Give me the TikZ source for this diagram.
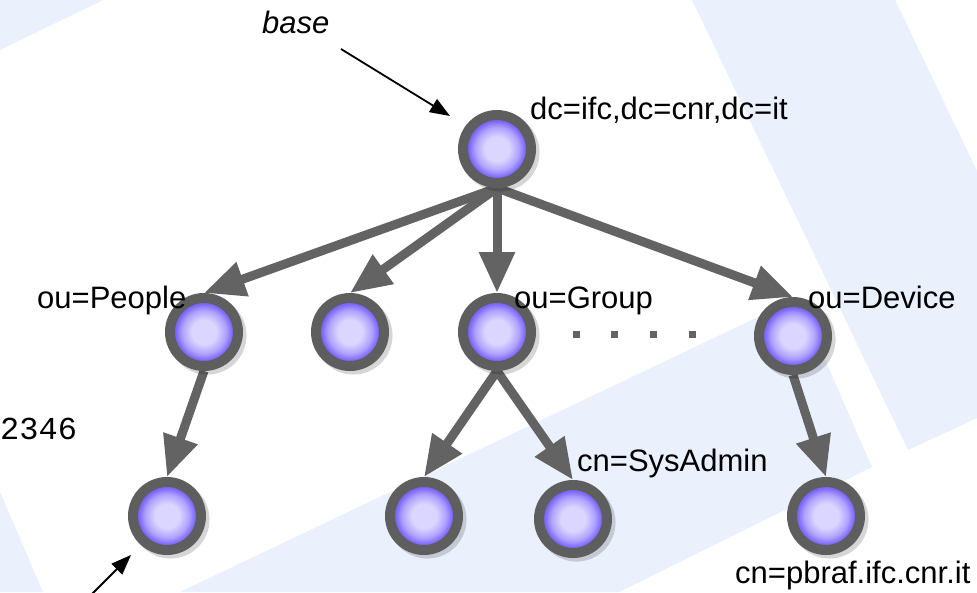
\documentclass[tikz,border=0pt]{standalone}
\usepackage{fontspec}
\setmainfont{Liberation Sans}
\newfontfamily\digitfont{Liberation Mono}
\usetikzlibrary{arrows.meta,shadows}
\definecolor{bgblue}{RGB}{234,240,252}
\definecolor{ringgray}{RGB}{94,94,94}
\definecolor{edgegray}{RGB}{99,99,99}
\definecolor{balllight}{RGB}{218,214,255}
\definecolor{ballmid}{RGB}{176,162,255}
\definecolor{balldark}{RGB}{120,100,250}
\pgfdeclareradialshading{ballshade}{\pgfpoint{0bp}{0bp}}{color(0bp)=(balllight); color(9bp)=(balllight); color(16bp)=(ballmid); color(21bp)=(balldark); color(25bp)=(balldark); color(50bp)=(balldark)}
\pgfdeclarelayer{back}
\pgfdeclarelayer{edges}
\pgfsetlayers{back,edges,main}
\tikzset{
  entry/.style={circle, draw=ringgray, line width=10pt, minimum size=68pt, inner sep=0pt,
    shade, shading=ballshade,
    drop shadow={shadow scale=1.15, shadow xshift=3pt, shadow yshift=-3pt, opacity=0.16, fill=black}},
  garrow/.style={draw=edgegray, line width=9pt, -{Triangle[length=41pt,width=34pt]}},
  barrow/.style={draw=black, line width=1.8pt, -{Triangle[length=20pt,width=15pt]}},
  lbl/.style={anchor=base west, inner sep=0pt, font=\fontsize{31}{33}\selectfont},
  bgshape/.style={fill=bgblue, draw=none},
  dotsq/.style={fill=edgegray}
}
\begin{document}
\begin{tikzpicture}[x=1pt,y=-1pt]
\useasboundingbox (0,0) rectangle (977,592);
\begin{pgfonlayer}{back}
  \fill[white] (0,0) rectangle (977,592);
  \fill[bgshape] (0,0) -- (103,0) -- (0,50) -- cycle;
  \fill[bgshape] (692,0) -- (895,0) -- (977,171) -- (977,418) -- (908,450) -- cycle;
  \fill[bgshape] (180,592) -- (798,298) -- (872,467) -- (619,592) -- cycle;
  \fill[bgshape] (0,492) -- (43,592) -- (0,592) -- cycle;
\end{pgfonlayer}

% nodes
\node[entry] (root)   at (497,149) {};
\node[entry] (people) at (204,332) {};
\node[entry] (blank)  at (350,332) {};
\node[entry] (group)  at (497,332) {};
\node[entry] (device) at (793,336) {};
\node[entry] (leafA)  at (167,516) {};
\node[entry] (leafB)  at (424,516) {};
\node[entry] (leafC)  at (573,519) {};
\node[entry] (leafD)  at (826,516) {};

% connectors
\begin{pgfonlayer}{edges}
  \draw[garrow] (root.south) -- (people.north);
  \draw[garrow] (root.south) -- (blank.north);
  \draw[garrow] (root.south) -- (group.north);
  \draw[garrow] (root.south) -- (device.north);
  \draw[garrow] (people.south) -- (leafA.north);
  \draw[garrow] (group.south) -- (leafB.north);
  \draw[garrow] (group.south) -- (leafC.north);
  \draw[garrow] (device.south) -- (leafD.north);
\end{pgfonlayer}

% dots
\foreach \xx in {576,614,653,692} {
  \fill[dotsq] (\xx-3.5,330.5) rectangle (\xx+3.5,337.5);
}

% labels
\node[lbl] (lroot)   at (530,119) {dc=ifc,dc=cnr,dc=it};
\node[lbl] (lpeople) at (37,308)  {ou=People};
\node[lbl] (lgroup)  at (514,308) {ou=Group};
\node[lbl] (ldevice) at (808,308) {ou=Device};
\node[lbl] (lsys)    at (577,471) {cn=SysAdmin};
\node[lbl] (lpbraf)  at (735,583) {cn=pbraf.ifc.cnr.it};
\node[lbl] (lbase)   at (262,33)  {\itshape base};
\node[anchor=base west, inner sep=0pt, font=\digitfont\fontsize{32}{34}\selectfont] (lnum) at (0,439) {2346};

% black pointer arrows
\coordinate (baseTail) at (341,49);
\coordinate (baseTip)  at (450,116);
\draw[barrow] (baseTail) -- (baseTip);
\coordinate (leafTail) at (86,600);
\coordinate (leafTip)  at (131,555);
\draw[barrow] (leafTail) -- (leafTip);
\end{tikzpicture}
\end{document}
